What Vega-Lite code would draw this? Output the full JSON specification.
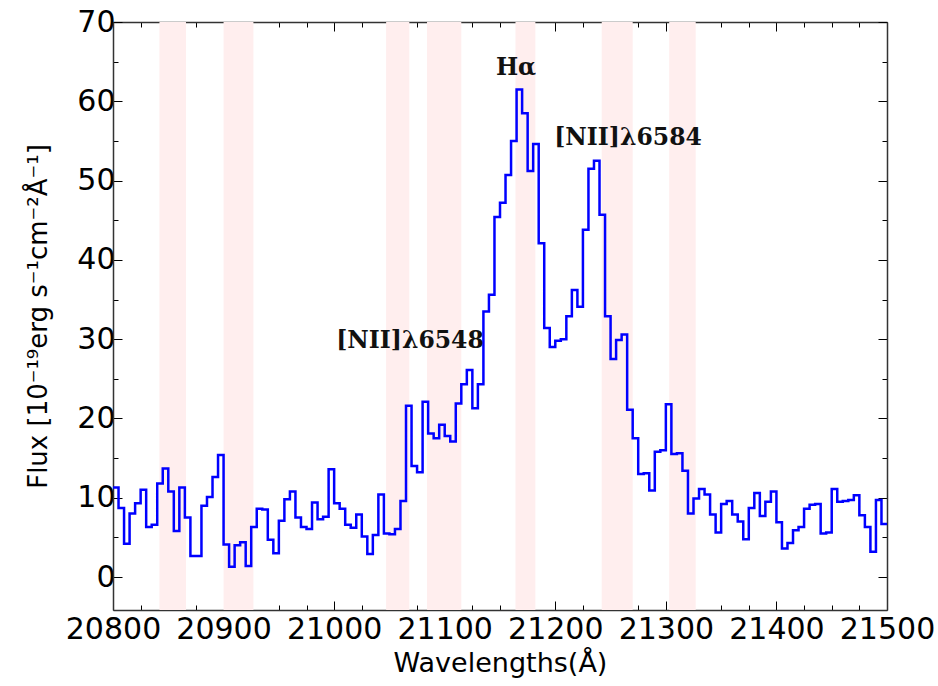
{
  "$schema": "https://vega.github.io/schema/vega-lite/v6.json",
  "width": 774,
  "height": 588,
  "autosize": "none",
  "padding": {"left": 113, "top": 22, "right": 51, "bottom": 76},
  "background": "white",
  "config": {"view": {"stroke": null}, "axis": {"grid": false}},
  "datasets": {
    "bands": [
      {"start": 20842, "end": 20866},
      {"start": 20900, "end": 20927},
      {"start": 21047, "end": 21068},
      {"start": 21084, "end": 21115},
      {"start": 21164, "end": 21182},
      {"start": 21242, "end": 21270},
      {"start": 21303, "end": 21327}
    ],
    "labels": [
      {"x": 21164.5, "y": 64.2, "label": "Hα"},
      {"x": 21265.8, "y": 55.4, "label": "[NII]λ6584"},
      {"x": 21068.6, "y": 29.8, "label": "[NII]λ6548"}
    ],
    "spec": [
      {"wl": 20800, "flux": 11.3}, {"wl": 20805, "flux": 8.7}, {"wl": 20810, "flux": 4.2}, {"wl": 20815, "flux": 8.0},
      {"wl": 20820, "flux": 9.3}, {"wl": 20825, "flux": 11.0}, {"wl": 20830, "flux": 6.3}, {"wl": 20835, "flux": 6.6},
      {"wl": 20840, "flux": 11.8}, {"wl": 20845, "flux": 13.7}, {"wl": 20850, "flux": 10.8}, {"wl": 20855, "flux": 5.8},
      {"wl": 20860, "flux": 11.3}, {"wl": 20865, "flux": 7.5}, {"wl": 20870, "flux": 2.65}, {"wl": 20875, "flux": 2.65},
      {"wl": 20880, "flux": 9.0}, {"wl": 20885, "flux": 10.1}, {"wl": 20890, "flux": 12.6}, {"wl": 20895, "flux": 15.4},
      {"wl": 20900, "flux": 4.1}, {"wl": 20905, "flux": 1.3}, {"wl": 20910, "flux": 4.0}, {"wl": 20915, "flux": 4.4},
      {"wl": 20920, "flux": 1.4}, {"wl": 20925, "flux": 6.3}, {"wl": 20930, "flux": 8.6}, {"wl": 20935, "flux": 8.5},
      {"wl": 20940, "flux": 4.7}, {"wl": 20945, "flux": 3.0}, {"wl": 20950, "flux": 7.1}, {"wl": 20955, "flux": 9.8},
      {"wl": 20960, "flux": 10.8}, {"wl": 20965, "flux": 7.5}, {"wl": 20970, "flux": 6.3}, {"wl": 20975, "flux": 6.05},
      {"wl": 20980, "flux": 9.4}, {"wl": 20985, "flux": 7.3}, {"wl": 20990, "flux": 7.6}, {"wl": 20995, "flux": 13.6},
      {"wl": 21000, "flux": 9.3}, {"wl": 21005, "flux": 8.6}, {"wl": 21010, "flux": 6.6}, {"wl": 21015, "flux": 6.2},
      {"wl": 21020, "flux": 7.9}, {"wl": 21025, "flux": 5.1}, {"wl": 21030, "flux": 2.9}, {"wl": 21035, "flux": 5.3},
      {"wl": 21040, "flux": 10.4}, {"wl": 21045, "flux": 5.5}, {"wl": 21050, "flux": 5.4}, {"wl": 21055, "flux": 6.05},
      {"wl": 21060, "flux": 9.6}, {"wl": 21065, "flux": 21.6}, {"wl": 21070, "flux": 14.0}, {"wl": 21075, "flux": 13.2},
      {"wl": 21080, "flux": 22.1}, {"wl": 21085, "flux": 18.1}, {"wl": 21090, "flux": 17.5}, {"wl": 21095, "flux": 19.2},
      {"wl": 21100, "flux": 17.8}, {"wl": 21105, "flux": 17.1}, {"wl": 21110, "flux": 21.9}, {"wl": 21115, "flux": 24.3},
      {"wl": 21120, "flux": 26.1}, {"wl": 21125, "flux": 21.3}, {"wl": 21130, "flux": 24.3}, {"wl": 21135, "flux": 33.5},
      {"wl": 21140, "flux": 35.6}, {"wl": 21145, "flux": 45.4}, {"wl": 21150, "flux": 47.2}, {"wl": 21155, "flux": 50.7},
      {"wl": 21160, "flux": 55.0}, {"wl": 21165, "flux": 61.5}, {"wl": 21170, "flux": 58.5}, {"wl": 21175, "flux": 51.2},
      {"wl": 21180, "flux": 54.6}, {"wl": 21185, "flux": 42.1}, {"wl": 21190, "flux": 31.4}, {"wl": 21195, "flux": 29.0},
      {"wl": 21200, "flux": 29.8}, {"wl": 21205, "flux": 30.0}, {"wl": 21210, "flux": 32.9}, {"wl": 21215, "flux": 36.2},
      {"wl": 21220, "flux": 34.1}, {"wl": 21225, "flux": 43.8}, {"wl": 21230, "flux": 51.5}, {"wl": 21235, "flux": 52.5},
      {"wl": 21240, "flux": 45.7}, {"wl": 21245, "flux": 32.9}, {"wl": 21250, "flux": 27.5}, {"wl": 21255, "flux": 29.9},
      {"wl": 21260, "flux": 30.6}, {"wl": 21265, "flux": 21.1}, {"wl": 21270, "flux": 17.5}, {"wl": 21275, "flux": 13.0},
      {"wl": 21280, "flux": 13.1}, {"wl": 21285, "flux": 10.9}, {"wl": 21290, "flux": 15.8}, {"wl": 21295, "flux": 16.0},
      {"wl": 21300, "flux": 21.8}, {"wl": 21305, "flux": 15.5}, {"wl": 21310, "flux": 15.6}, {"wl": 21315, "flux": 13.4},
      {"wl": 21320, "flux": 8.0}, {"wl": 21325, "flux": 9.9}, {"wl": 21330, "flux": 11.1}, {"wl": 21335, "flux": 10.4},
      {"wl": 21340, "flux": 7.9}, {"wl": 21345, "flux": 5.6}, {"wl": 21350, "flux": 9.2}, {"wl": 21355, "flux": 9.6},
      {"wl": 21360, "flux": 7.9}, {"wl": 21365, "flux": 7.0}, {"wl": 21370, "flux": 4.75}, {"wl": 21375, "flux": 8.7},
      {"wl": 21380, "flux": 10.6}, {"wl": 21385, "flux": 7.7}, {"wl": 21390, "flux": 9.5}, {"wl": 21395, "flux": 10.8},
      {"wl": 21400, "flux": 6.9}, {"wl": 21405, "flux": 3.6}, {"wl": 21410, "flux": 4.3}, {"wl": 21415, "flux": 5.9},
      {"wl": 21420, "flux": 6.3}, {"wl": 21425, "flux": 8.6}, {"wl": 21430, "flux": 9.1}, {"wl": 21435, "flux": 9.2},
      {"wl": 21440, "flux": 5.5}, {"wl": 21445, "flux": 5.6}, {"wl": 21450, "flux": 11.1}, {"wl": 21455, "flux": 9.5},
      {"wl": 21460, "flux": 9.6}, {"wl": 21465, "flux": 9.7}, {"wl": 21470, "flux": 10.3}, {"wl": 21475, "flux": 7.8},
      {"wl": 21480, "flux": 6.3}, {"wl": 21485, "flux": 3.2}, {"wl": 21490, "flux": 9.7}, {"wl": 21495, "flux": 6.7},
      {"wl": 21500, "flux": 6.7}
    ]
  },
  "layer": [
    {
      "data": {"name": "bands"},
      "mark": {"type": "rect", "color": "#ffeeee"},
      "encoding": {
        "x": {"field": "start", "type": "quantitative", "scale": {"domain": [20800, 21500], "nice": false, "zero": false}, "axis": null},
        "x2": {"field": "end"}
      }
    },
    {
      "data": {"name": "spec"},
      "mark": {"type": "line", "interpolate": "step-after", "color": "#0000ff", "strokeWidth": 2.5, "clip": true},
      "encoding": {
        "x": {
          "field": "wl", "type": "quantitative",
          "scale": {"domain": [20800, 21500], "nice": false, "zero": false},
          "axis": {
            "orient": "bottom",
            "values": [20800, 20825, 20850, 20875, 20900, 20925, 20950, 20975, 21000, 21025, 21050, 21075, 21100, 21125, 21150, 21175, 21200, 21225, 21250, 21275, 21300, 21325, 21350, 21375, 21400, 21425, 21450, 21475, 21500],
            "format": "d",
            "labelExpr": "datum.value % 100 === 0 ? datum.label : ''",
            "tickSize": {"condition": {"test": "datum.value % 100 === 0", "value": -9}, "value": -5},
            "tickColor": "#000000",
            "domainColor": "#333333",
            "domainWidth": 1.5,
            "labelFont": "DejaVu Sans",
            "labelFontSize": 30,
            "labelColor": "#000000",
            "labelPadding": 13,
            "labelFlush": false,
            "labelOverlap": false,
            "title": "Wavelengths(Å)",
            "titleFont": "DejaVu Sans",
            "titleFontSize": 27,
            "titleFontWeight": "normal",
            "titleColor": "#000000",
            "titlePadding": 2
          }
        },
        "y": {
          "field": "flux", "type": "quantitative",
          "scale": {"domain": [-4.16, 70], "nice": false, "zero": false},
          "axis": {
            "orient": "left",
            "values": [0, 5, 10, 15, 20, 25, 30, 35, 40, 45, 50, 55, 60, 65, 70],
            "labelExpr": "datum.value % 10 === 0 ? datum.label : ''",
            "tickSize": {"condition": {"test": "datum.value % 10 === 0", "value": -9}, "value": -5},
            "tickColor": "#000000",
            "domainColor": "#333333",
            "domainWidth": 1.5,
            "labelFont": "DejaVu Sans",
            "labelFontSize": 30,
            "labelColor": "#000000",
            "labelPadding": 7,
            "labelFlush": false,
            "labelOverlap": false,
            "title": "Flux [10⁻¹⁹erg s⁻¹cm⁻²Å⁻¹]",
            "titleFont": "DejaVu Sans",
            "titleFontSize": 26,
            "titleFontWeight": "normal",
            "titleColor": "#000000",
            "titlePadding": 25
          }
        }
      }
    },
    {
      "data": {"name": "labels"},
      "mark": {"type": "text", "font": "DejaVu Serif", "fontWeight": "bold", "fontSize": 23.5, "color": "#111111"},
      "encoding": {
        "x": {
          "field": "x", "type": "quantitative",
          "scale": {"domain": [20800, 21500], "nice": false, "zero": false},
          "axis": {
            "orient": "top",
            "values": [20800, 20825, 20850, 20875, 20900, 20925, 20950, 20975, 21000, 21025, 21050, 21075, 21100, 21125, 21150, 21175, 21200, 21225, 21250, 21275, 21300, 21325, 21350, 21375, 21400, 21425, 21450, 21475, 21500],
            "labels": false,
            "tickSize": {"condition": {"test": "datum.value % 100 === 0", "value": -9}, "value": -5},
            "tickColor": "#000000",
            "domainColor": "#333333",
            "domainWidth": 1.5,
            "title": null
          }
        },
        "y": {
          "field": "y", "type": "quantitative",
          "scale": {"domain": [-4.16, 70], "nice": false, "zero": false},
          "axis": {
            "orient": "right",
            "values": [0, 5, 10, 15, 20, 25, 30, 35, 40, 45, 50, 55, 60, 65, 70],
            "labels": false,
            "tickSize": {"condition": {"test": "datum.value % 10 === 0", "value": -9}, "value": -5},
            "tickColor": "#000000",
            "domainColor": "#333333",
            "domainWidth": 1.5,
            "title": null
          }
        },
        "text": {"field": "label", "type": "nominal"}
      }
    }
  ],
  "resolve": {"axis": {"x": "independent", "y": "independent"}}
}
